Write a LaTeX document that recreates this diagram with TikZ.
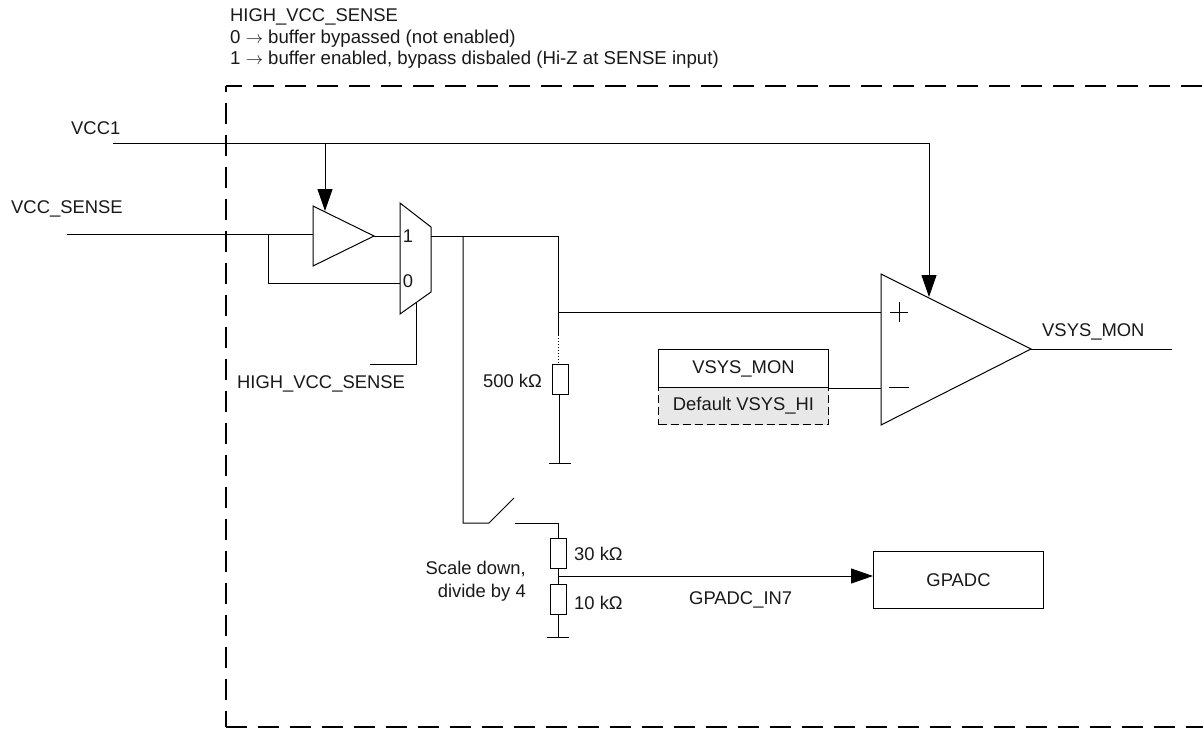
\documentclass[tikz,border=0pt]{standalone}
\usepackage{fontspec}
\setmainfont{Liberation Sans}
\usetikzlibrary{arrows.meta}
\tikzset{
  x=1pt,y=-1pt,
  wire/.style={line width=1pt,line join=miter},
  sig/.style={wire,-{Triangle[length=22pt,width=15pt]}},
  border/.style={line width=2.8pt,dash pattern=on 21pt off 11pt},
  part/.style={wire,draw,fill=white,minimum width=16pt,minimum height=30pt,inner sep=0pt},
  lab/.style={inner sep=0pt,font=\fontsize{18.4}{22}\selectfont,text=black!90},
  notelab/.style={inner sep=0pt,font=\fontsize{18.65}{22}\selectfont,text=black!90},
  boxn/.style={wire,draw,inner sep=0pt,font=\fontsize{18.4}{22}\selectfont,text=black!90},
}
\begin{document}
\begin{tikzpicture}
\useasboundingbox (0,0) rectangle (1203,729);
% boundary
\coordinate (tr) at (1203,86);
\coordinate (tl) at (226,86);
\coordinate (bl) at (226,727);
\coordinate (br2) at (1203,727);
\draw[border,dash phase=5pt] (tl) -- (tr);
\draw[border,dash phase=15pt] (tl) -- (bl);
\draw[border] (bl) -- (br2);
% texts
\node[lab,anchor=base west] (notea) at (230,21) {HIGH\_VCC\_SENSE};
\node[notelab,anchor=base west] (noteb) at (230,43) {0 $\rightarrow$ buffer bypassed (not enabled)};
\node[notelab,anchor=base west] (notec) at (230,64) {1 $\rightarrow$ buffer enabled, bypass disbaled (Hi-Z at SENSE input)};
\node[lab,anchor=base west] (vccone) at (71,134) {VCC1};
\node[lab,anchor=base west] (vccs) at (11,213) {VCC\_SENSE};
\node[lab,anchor=base west] (hvs) at (237,388) {HIGH\_VCC\_SENSE};
\node[lab,anchor=base west] (rfive) at (483,387) {500 kΩ};
\node[lab,anchor=base west] (rthirty) at (574,560) {30 kΩ};
\node[lab,anchor=base west] (rten) at (574,609) {10 kΩ};
\node[lab,anchor=base east] (scale) at (526,574) {Scale down,};
\node[lab,anchor=base east] (divide) at (526,597) {divide by 4};
\node[lab,anchor=base west] (gpin) at (689,604) {GPADC\_IN7};
\node[lab,anchor=base west] (vsout) at (1042,336) {VSYS\_MON};
% coordinates
\coordinate (vin) at (67,234);
\coordinate (vcca) at (113,143);
\coordinate (vccb) at (929,143);
\coordinate (bufa) at (313,206);
\coordinate (bufb) at (313,266);
\coordinate (bufi) at (313,234);
\coordinate (buft) at (374,236);
\coordinate (bufp) at (325,211);
\coordinate (tap) at (325,143);
\coordinate (br) at (268,234);
\coordinate (brd) at (268,283);
\coordinate (mi) at (400,236);
\coordinate (mz) at (400,283);
\coordinate (mo) at (431,236);
\coordinate (sela) at (416,303);
\coordinate (selb) at (416,364);
\coordinate (selc) at (370,364);
\coordinate (ja) at (463,236);
\coordinate (jb) at (558,236);
\coordinate (jc) at (558,312);
\coordinate (jd) at (558,335);
\coordinate (plus) at (881,312);
\coordinate (minus) at (881,387);
\coordinate (cmpp) at (929,297);
\coordinate (cmpo) at (1031,349);
\coordinate (outp) at (1172,349);
\coordinate (swa) at (463,523);
\coordinate (swb) at (489,523);
\coordinate (swc) at (514,498);
\coordinate (swd) at (515,523);
\coordinate (swe) at (558,523);
\coordinate (gnda) at (559,463);
\coordinate (gndb) at (558,637);
\coordinate (tapr) at (558,576);
% buffer
\draw[wire] (bufa) -- (buft) -- (bufb) -- cycle;
% mux
\draw[wire] (400,203) -- (431,227) -- (431,292) -- (400,314) -- cycle;
\node[lab] (one) at (408,236) {1};
\node[lab] (zero) at (408,281) {0};
% comparator
\draw[wire] (881,274) -- (cmpo) -- (881,425) -- cycle;
\draw[wire] (889.500,312) -- (908,312) (899,302) -- (899,322);
\draw[wire] (889,387) -- (909,387);
% boxes
\node[boxn,fill=black!9,dash pattern=on 8pt off 4pt,minimum width=170pt,minimum height=37pt,anchor=north west] (vshi) at (658,387) {Default VSYS\_HI};
\node[boxn,fill=white,minimum width=170pt,minimum height=38pt,anchor=north west] (vsmon) at (658,349) {VSYS\_MON};
\node[boxn,minimum width=170pt,minimum height=57pt,anchor=north west] (adc) at (873,551) {GPADC};
% resistors
\node[part] (r500) at (560,379) {};
\node[part] (r30) at (558,553) {};
\node[part] (r10) at (558,599) {};
% wires
\draw[wire] (vcca) -- (vccb);
\draw[wire] (vin) -- (bufi);
\draw[wire] (buft) -- (mi);
\draw[wire] (br) -- (brd) -- (mz);
\draw[wire] (mo) -- (jb) -- (jd);
\draw[wire,dotted] (jd) -- (r500.north -| jd);
\draw[wire] (jc) -- (plus);
\draw[wire] (vsmon.south east) -- (minus |- vsmon.south east);
\draw[wire] (cmpo) -- (outp);
\draw[wire] (sela) -- (selb) -- (selc);
\draw[wire] (ja) -- (swa) -- (swb) -- (swc);
\draw[wire] (swd) -- (swe) -- (r30.north);
\draw[wire] (r30.south) -- (r10.north);
\draw[wire] (r500.south -| gnda) -- (gnda);
\draw[wire] (549,463) -- (571,463);
\draw[wire] (r10.south) -- (gndb);
\draw[wire] (547,637) -- (569,637);
\draw[sig] (tapr) -- (adc.west |- tapr);
\draw[sig] (tap) -- (bufp);
\draw[sig] (vccb) -- (cmpp);
\end{tikzpicture}
\end{document}
